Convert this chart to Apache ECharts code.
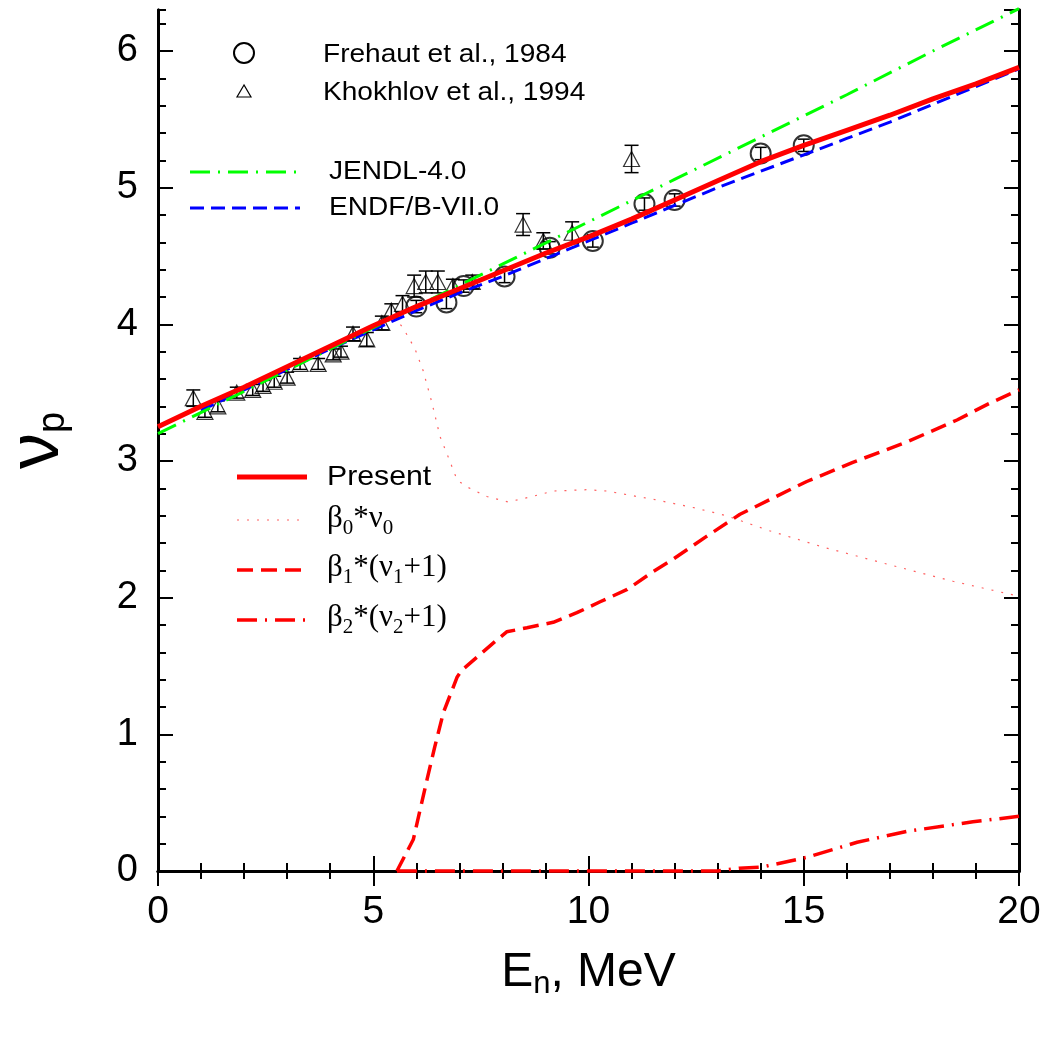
<!DOCTYPE html>
<html><head><meta charset="utf-8">
<script src="https://cdn.jsdelivr.net/npm/echarts@6/dist/echarts.min.js"></script>
<style>html,body{margin:0;padding:0;background:#fff}#c{width:1053px;height:1039px}</style>
</head><body><div id="c"></div>
<script>
// ---- data ----
const presentE = [0,1,2,3,4,5,6,7,8,9,10,11,12,13,14,15,16,17,18,19,20];
const presentV = [3.25,3.40,3.54,3.69,3.84,3.99,4.13,4.26,4.39,4.52,4.64,4.77,4.91,5.05,5.19,5.31,5.42,5.53,5.65,5.76,5.88];
const jendlE = [0,2,4,6,8,10,12,14,16,18,20];
const jendlV = [3.20,3.51,3.82,4.13,4.44,4.75,5.06,5.37,5.68,6.00,6.31];
const endfE = [1,2,3,4,5,6,7,8,9,10,11,12,13,14,15,16,17,18,19,20];
const endfV = [3.37,3.52,3.67,3.82,3.96,4.10,4.23,4.35,4.48,4.61,4.74,4.87,5.00,5.12,5.24,5.36,5.48,5.61,5.74,5.87];
const b0E = [0,1,2,3,4,5,5.5,5.7,5.97,6.16,6.36,6.55,6.74,6.95,7.18,7.64,8.13,8.69,9.18,9.96,10.43,11.13,11.5,12.43,13.2,14.2,15.45,17.0,18.47,20];
const b0V = [3.25,3.40,3.54,3.69,3.84,3.99,4.05,3.97,3.82,3.66,3.43,3.18,3.03,2.86,2.81,2.74,2.70,2.74,2.78,2.79,2.78,2.74,2.72,2.66,2.60,2.49,2.37,2.24,2.12,2.01];
const b1E = [5.55,5.93,6.25,6.43,6.63,6.95,7.06,7.87,8.1,8.57,9.18,9.73,10.27,10.9,11.5,11.96,12.75,13.52,14.29,15.07,16.14,17.4,18.56,19.3,20];
const b1V = [0,0.23,0.67,0.91,1.16,1.42,1.47,1.69,1.75,1.78,1.82,1.89,1.97,2.06,2.19,2.28,2.45,2.61,2.73,2.85,2.99,3.14,3.30,3.42,3.52];
const b2E = [5.55,13.0,13.5,14.05,15.07,16.24,17.4,18.93,20];
const b2V = [0,0,0.02,0.03,0.10,0.21,0.29,0.36,0.40];
const frehautE = [6.0,6.7,7.1,8.05,9.1,10.1,11.3,12.0,14.0,15.0];
const frehautV = [4.13,4.16,4.28,4.35,4.56,4.61,4.88,4.91,5.25,5.31];
const frehautErr = [0.045,0.045,0.045,0.045,0.045,0.045,0.045,0.045,0.045,0.045];
const khokE = [0.82,1.09,1.39,1.83,2.2,2.44,2.7,3.0,3.3,3.72,4.07,4.25,4.53,4.85,5.2,5.42,5.68,5.95,6.22,6.5,6.85,7.3,8.48,8.95,9.62,11.0];
const khokV = [3.46,3.36,3.40,3.50,3.52,3.55,3.58,3.61,3.71,3.71,3.78,3.80,3.93,3.89,4.01,4.10,4.15,4.28,4.31,4.31,4.28,4.31,4.73,4.61,4.67,5.21];
const khokErr = [0.06,0.04,0.04,0.04,0.04,0.04,0.04,0.04,0.04,0.04,0.04,0.04,0.05,0.05,0.05,0.05,0.06,0.08,0.08,0.08,0.05,0.05,0.08,0.06,0.08,0.1];
const xMin = 0, xMax = 20, xInterval = 5;
const yMin = 0, yMax = 6.3, yInterval = 1, yMinorInterval = 0.2;

// ---- helpers ----
const zip = (a, b) => a.map((v, i) => [v, b[i]]);
const errData = (e, v, d) => e.map((x, i) => [x, v[i] - d[i], v[i] + d[i]]);
function errRender(capW) {
  return function (params, api) {
    const x = api.value(0), lo = api.value(1), hi = api.value(2);
    const p1 = api.coord([x, lo]), p2 = api.coord([x, hi]);
    const st = {stroke: '#000', lineWidth: 1.5};
    return {type: 'group', children: [
      {type: 'line', shape: {x1: p1[0], y1: p1[1], x2: p2[0], y2: p2[1]}, style: st},
      {type: 'line', shape: {x1: p1[0] - capW, y1: p1[1], x2: p1[0] + capW, y2: p1[1]}, style: st},
      {type: 'line', shape: {x1: p2[0] - capW, y1: p2[1], x2: p2[0] + capW, y2: p2[1]}, style: st}
    ]};
  };
}
const SANS = 'Liberation Sans, Arial, sans-serif';
const SERIF = 'Liberation Serif, Times New Roman, serif';
const axisLineStyle = {color: '#000', width: 3};

const chart = echarts.init(document.getElementById('c'));
const grid = {left: 158, right: 34, top: 10, bottom: 168, containLabel: false, outerBoundsMode: 'none'};

function yAx(pos, major, withLabel) {
  return {
    type: 'value', position: pos, min: yMin, max: yMax,
    interval: major ? yInterval : yMinorInterval,
    axisLine: {show: true, lineStyle: axisLineStyle},
    axisTick: {show: true, inside: true, length: major ? 15 : 8, lineStyle: {color: '#000', width: 2}},
    axisLabel: withLabel ? {show: true, fontFamily: SANS, fontSize: 38, color: '#000', margin: 20, showMaxLabel: false,
      formatter: v => (Math.abs(v - Math.round(v)) < 1e-6 && v <= 6) ? String(Math.round(v)) : ''} : {show: false},
    splitLine: {show: false},
    name: withLabel ? '{a|ν}{s|p}' : '',
    nameLocation: 'middle', nameRotate: 90, nameGap: 84,
    nameTextStyle: {rich: {
      a: {fontFamily: SANS, fontSize: 72, color: '#000'},
      s: {fontFamily: SANS, fontSize: 38, color: '#000', padding: [32, 0, 0, 0]}
    }}
  };
}
function xAx(pos, withLabel) {
  return {
    type: 'value', position: pos, min: xMin, max: xMax, interval: xInterval,
    axisLine: {show: true, lineStyle: axisLineStyle},
    axisTick: {show: true, inside: true, length: 15, lineStyle: {color: '#000', width: 2}},
    minorTick: {show: true, splitNumber: 5, length: 8, lineStyle: {color: '#000', width: 2}},
    axisLabel: withLabel ? {show: true, fontFamily: SANS, fontSize: 39, color: '#000', margin: 22} : {show: false},
    splitLine: {show: false},
    name: withLabel ? '{a|E}{s|n}{a|, MeV}' : '',
    nameLocation: 'middle', nameGap: 74,
    nameTextStyle: {rich: {
      a: {fontFamily: SANS, fontSize: 48, color: '#000'},
      s: {fontFamily: SANS, fontSize: 31, color: '#000', padding: [24, 0, 0, 0]}
    }}
  };
}

function lineSeries(name, e, v, color, width, dash) {
  return {
    type: 'line', name, data: zip(e, v), xAxisIndex: 0, yAxisIndex: 0,
    showSymbol: false, symbol: 'none', clip: false, animation: false,
    lineStyle: {color, width, type: dash || 'solid'}
  };
}

// legend graphics
const lg = [];
function lgLine(x1, x2, y, color, width, dash) {
  lg.push({type: 'line', shape: {x1, y1: y, x2, y2: y}, style: {stroke: color, lineWidth: width, lineDash: dash || null}});
}
function lgText(x, y, text, rich, font, sx) {
  lg.push({type: 'text', x, y, scaleX: sx || 1, style: {text, rich, font, fill: '#000', verticalAlign: 'middle', align: 'left'}});
}
lg.push({type: 'circle', shape: {cx: 244, cy: 53, r: 10}, style: {fill: 'none', stroke: '#000', lineWidth: 2}});
lg.push({type: 'polygon', shape: {points: [[244, 85], [237, 97], [251, 97]]}, style: {fill: 'none', stroke: '#000', lineWidth: 1.2}});
lgText(323, 55, 'Frehaut et al., 1984', null, '26px ' + SANS, 1.08);
lgText(323, 93, 'Khokhlov et al., 1994', null, '26px ' + SANS, 1.08);
lgLine(190, 300, 172, '#00ff00', 3, [20, 8, 2, 8]);
lgText(329, 172, 'JENDL-4.0', null, '26px ' + SANS, 1.08);
lgLine(190, 300, 208, '#0000ff', 3, [14, 7]);
lgText(329, 208, 'ENDF/B-VII.0', null, '26px ' + SANS, 1.08);
lgLine(237, 307, 477, '#ff0000', 5);
lgText(327, 477, 'Present', null, '28px ' + SANS, 1.08);
lgLine(237, 307, 520, '#ff6060', 1.2, [2, 8]);
lgLine(237, 307, 570, '#ff0000', 3.5, [16, 8]);
lgLine(237, 307, 620, '#ff0000', 3.5, [20, 8, 2, 8]);
const gr = {
  m: {fontFamily: SERIF, fontSize: 31, color: '#000'},
  s: {fontFamily: SERIF, fontSize: 21, color: '#000', padding: [18, 0, 0, 0]}
};
lgText(327, 519, '{m|β}{s|0}{m|*ν}{s|0}', gr);
lgText(327, 568, '{m|β}{s|1}{m|*(ν}{s|1}{m|+1)}', gr);
lgText(327, 618, '{m|β}{s|2}{m|*(ν}{s|2}{m|+1)}', gr);

chart.setOption({
  animation: false,
  backgroundColor: '#fff',
  grid,
  xAxis: [xAx('bottom', true), xAx('top', false)],
  yAxis: [yAx('left', true, true), yAx('left', false, false), yAx('right', true, false), yAx('right', false, false)],
  graphic: lg,
  series: [
    {type: 'custom', name: 'khokErr', renderItem: errRender(7), data: errData(khokE, khokV, khokErr), encode: {x: 0, y: [1, 2]}, clip: false, z: 2},
    {type: 'custom', name: 'frehautErr', renderItem: errRender(6), data: errData(frehautE, frehautV, frehautErr), encode: {x: 0, y: [1, 2]}, clip: false, z: 2},
    {type: 'scatter', name: 'Frehaut et al., 1984', data: zip(frehautE, frehautV), symbol: 'circle', symbolSize: 20,
      itemStyle: {color: 'rgba(0,0,0,0)', borderColor: '#000', borderWidth: 2}, z: 2},
    {type: 'scatter', name: 'Khokhlov et al., 1994', data: zip(khokE, khokV), symbol: 'triangle', symbolSize: [16, 15],
      itemStyle: {color: 'rgba(0,0,0,0)', borderColor: '#000', borderWidth: 1.2}, z: 2},
    Object.assign(lineSeries('b0', b0E, b0V, '#ff6060', 1.2, [2, 8]), {z: 3}),
    Object.assign(lineSeries('b2', b2E, b2V, '#ff0000', 3.5, [20, 8, 2, 8]), {z: 3}),
    Object.assign(lineSeries('b1', b1E, b1V, '#ff0000', 3.5, [16, 8]), {z: 3}),
    Object.assign(lineSeries('ENDF/B-VII.0', endfE, endfV, '#0000ff', 3, [14, 7]), {z: 3}),
    Object.assign(lineSeries('JENDL-4.0', jendlE, jendlV, '#00ff00', 3, [20, 8, 2, 8]), {z: 3}),
    Object.assign(lineSeries('Present', presentE, presentV, '#ff0000', 5), {z: 4})
  ]
});
</script></body></html>
